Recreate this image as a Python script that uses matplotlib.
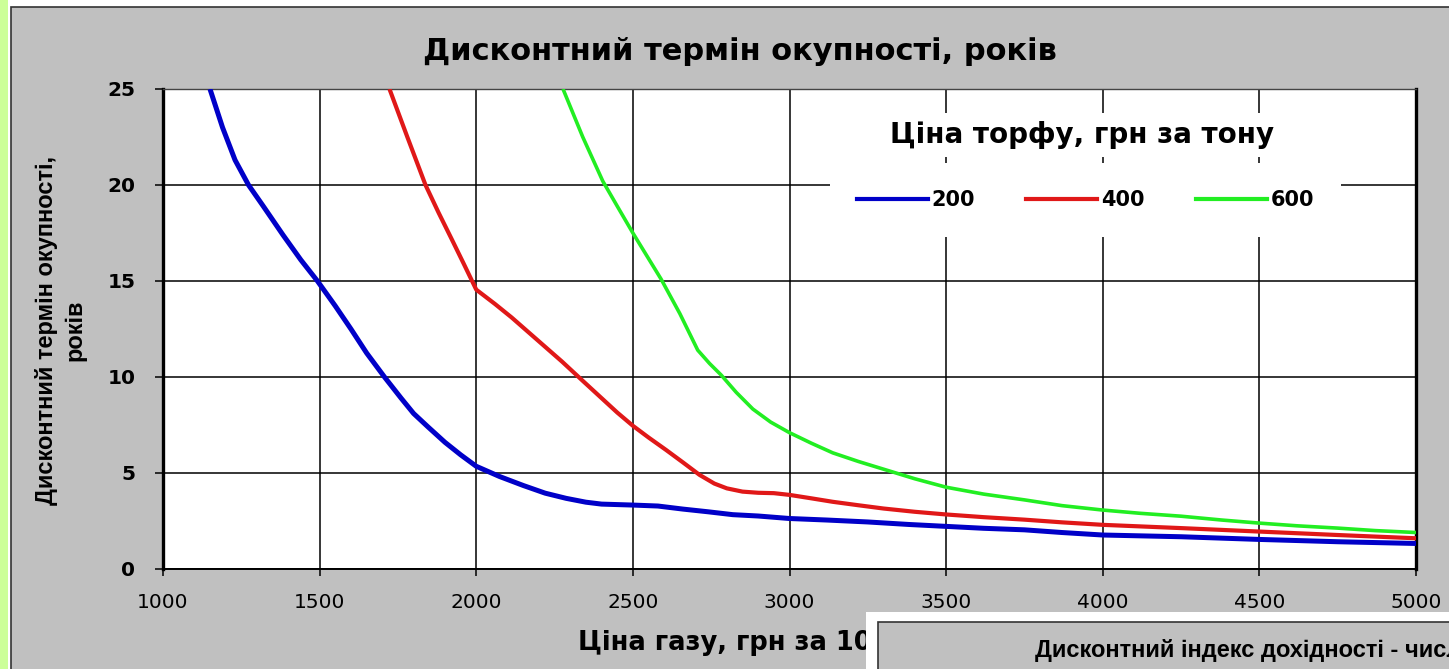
import matplotlib
matplotlib.use("Agg")
import matplotlib.pyplot as plt
from matplotlib.patches import Rectangle
from matplotlib.lines import Line2D

# ---------------- data ----------------
gas_200 = [1150, 1190, 1230, 1273, 1320, 1383, 1440, 1493, 1550, 1600, 1650, 1707, 1760,
           1800, 1846, 1900, 1950, 2000, 2074, 2150, 2220, 2287, 2350, 2400, 2500, 2580,
           2660, 2740, 2819, 2900, 3000, 3120, 3250, 3380, 3500, 3620, 3750, 3870, 4000,
           4250, 4500, 4750, 5000]
pb_200 = [25, 23.0, 21.3, 20, 18.9, 17.4, 16.1, 15, 13.7, 12.5, 11.25, 10, 8.9,
          8.1, 7.4, 6.6, 5.95, 5.35, 4.82, 4.35, 3.95, 3.68, 3.48, 3.38, 3.33, 3.28,
          3.12, 2.98, 2.83, 2.76, 2.63, 2.55, 2.45, 2.32, 2.22, 2.12, 2.04, 1.9, 1.77,
          1.68, 1.54, 1.42, 1.33]

gas_400 = [1723, 1780, 1838, 1880, 1921, 1960, 2000, 2060, 2113, 2190, 2274, 2340, 2400,
           2450, 2500, 2550, 2606, 2660, 2713, 2760, 2800, 2850, 2900, 2950, 3000, 3070,
           3138, 3220, 3300, 3400, 3500, 3620, 3750, 3870, 4000, 4250, 4500, 4750, 5000]
pb_400 = [25, 22.5, 20, 18.55, 17.2, 15.9, 14.55, 13.8, 13.1, 12.0, 10.8, 9.8, 8.9,
          8.15, 7.46, 6.85, 6.2, 5.55, 4.9, 4.45, 4.2, 4.03, 3.97, 3.95, 3.86, 3.68,
          3.5, 3.32, 3.15, 2.98, 2.84, 2.7, 2.57, 2.43, 2.3, 2.13, 1.95, 1.77, 1.6]

gas_600 = [2277, 2340, 2404, 2450, 2500, 2545, 2590, 2650, 2707, 2745, 2782, 2830, 2883,
           2940, 3000, 3070, 3138, 3220, 3300, 3400, 3500, 3620, 3750, 3870, 4000, 4120,
           4250, 4380, 4500, 4620, 4750, 4870, 5000]
pb_600 = [25, 22.5, 20.2, 18.9, 17.5, 16.3, 15.1, 13.3, 11.4, 10.7, 10.1, 9.2, 8.33,
          7.65, 7.1, 6.55, 6.05, 5.6, 5.2, 4.7, 4.26, 3.9, 3.6, 3.3, 3.07, 2.9,
          2.75, 2.55, 2.39, 2.25, 2.13, 2.0, 1.9]

series_labels = ["200", "400", "600"]
x_ticks = [1000, 1500, 2000, 2500, 3000, 3500, 4000, 4500, 5000]
y_ticks = [0, 5, 10, 15, 20, 25]

title = "Дисконтний термін окупності, років"
ylabel = "Дисконтний термін окупності,\nроків"
xlabel = "Ціна газу, грн за 1000 куб. м"
legend_title = "Ціна торфу, грн за тону"
inset_title = "Дисконтний індекс дохідності - число разів"

# ---------------- style ----------------
W, H = 1449, 669
WIDE = "DejaVu Sans"
ARIAL = "Liberation Sans"
GREY = "#c0c0c0"
colors = ["#0000c8", "#e01818", "#22ee22"]
widths = [3.6, 3.0, 2.6]

plt.rcParams["font.family"] = [WIDE]

fig = plt.figure(figsize=(W / 100, H / 100), dpi=100, facecolor="white")

def fx(px):
    return px / W

def fy(py):
    return 1 - py / H

# left green strip
fig.patches.append(Rectangle((0, 0), fx(8), 1, transform=fig.transFigure,
                             facecolor="#ccff99", edgecolor="none", zorder=0))
# chart area background with dark border
fig.patches.append(Rectangle((fx(11), fy(700)), fx(1460 - 11), fy(7) - fy(700),
                             transform=fig.transFigure, facecolor=GREY,
                             edgecolor="#333333", linewidth=1.2, zorder=0))

ax = fig.add_axes([fx(163), fy(569), fx(1416) - fx(163), fy(89) - fy(569)])
ax.set_zorder(2)
ax.set_facecolor("white")

for gx, gy, c, lw, lab in zip([gas_200, gas_400, gas_600], [pb_200, pb_400, pb_600],
                              colors, widths, series_labels):
    ax.plot(gx, gy, color=c, linewidth=lw, label=lab, solid_capstyle="butt",
            solid_joinstyle="round", zorder=3)

ax.set_xlim(1000, 5000)
ax.set_ylim(0, 25)
ax.set_xticks(x_ticks)
ax.set_yticks(y_ticks)
ax.set_xticklabels([str(v) for v in x_ticks], fontsize=14.5, family=WIDE)
ax.set_yticklabels([str(v) for v in y_ticks], fontsize=14.5, fontweight="bold", family=WIDE)
ax.grid(True, color="black", linewidth=1.1, zorder=1)
ax.set_axisbelow(True)
ax.tick_params(axis="x", direction="out", length=5, width=1.1, pad=12, colors="black")
ax.tick_params(axis="y", direction="out", length=6, width=1.1, pad=14, colors="black")

for side in ["left", "right"]:
    ax.spines[side].set_linewidth(2.4)
    ax.spines[side].set_color("black")
ax.spines["bottom"].set_linewidth(1.4)
ax.spines["top"].set_linewidth(1.0)
ax.spines["top"].set_color("#444444")

# legend (entries box) and its separate title box
handles = [Line2D([0], [0], color=c, linewidth=3.0) for c in colors]
leg = ax.legend(handles, series_labels, ncol=3, loc="center",
                bbox_to_anchor=((1085.5 - 163) / 1253, (569 - 200) / 480),
                frameon=True, facecolor="white", edgecolor="none", framealpha=1,
                fancybox=False, handlelength=3.4, handletextpad=0.2,
                columnspacing=2.45, borderpad=1.3,
                prop={"family": WIDE, "weight": "bold", "size": 15})
leg.set_zorder(5)

ax.text((1082 - 163) / 1253, (569 - 135) / 480, legend_title, transform=ax.transAxes,
        ha="center", va="center", fontsize=20, fontweight="bold", family=WIDE,
        zorder=6, bbox=dict(boxstyle="square,pad=0.3", facecolor="white", edgecolor="none"))

# titles and axis labels
fig.text(fx(740), fy(52), title, ha="center", va="center", fontsize=22,
         fontweight="bold", family=WIDE)
fig.text(fx(61), fy(330), ylabel, ha="center", va="center", rotation=90,
         fontsize=17, fontweight="bold", family=ARIAL, multialignment="center",
         linespacing=1.3)
fig.text(fx(578), fy(642), xlabel, ha="left", va="center", fontsize=18.5,
         fontweight="bold", family=WIDE)

# overlapping second chart (cropped at the figure edge)
fig.patches.append(Rectangle((fx(866), fy(720)), fx(1500 - 866), fy(612) - fy(720),
                             transform=fig.transFigure, facecolor="white",
                             edgecolor="none", zorder=8))
fig.patches.append(Rectangle((fx(878), fy(720)), fx(1500 - 878), fy(622) - fy(720),
                             transform=fig.transFigure, facecolor=GREY,
                             edgecolor="#333333", linewidth=1.2, zorder=9))
fig.text(fx(1035), fy(650), inset_title, ha="left", va="center", fontsize=17,
         fontweight="bold", family=ARIAL, zorder=10)

fig.savefig("out.png", dpi=100, facecolor=fig.get_facecolor())
